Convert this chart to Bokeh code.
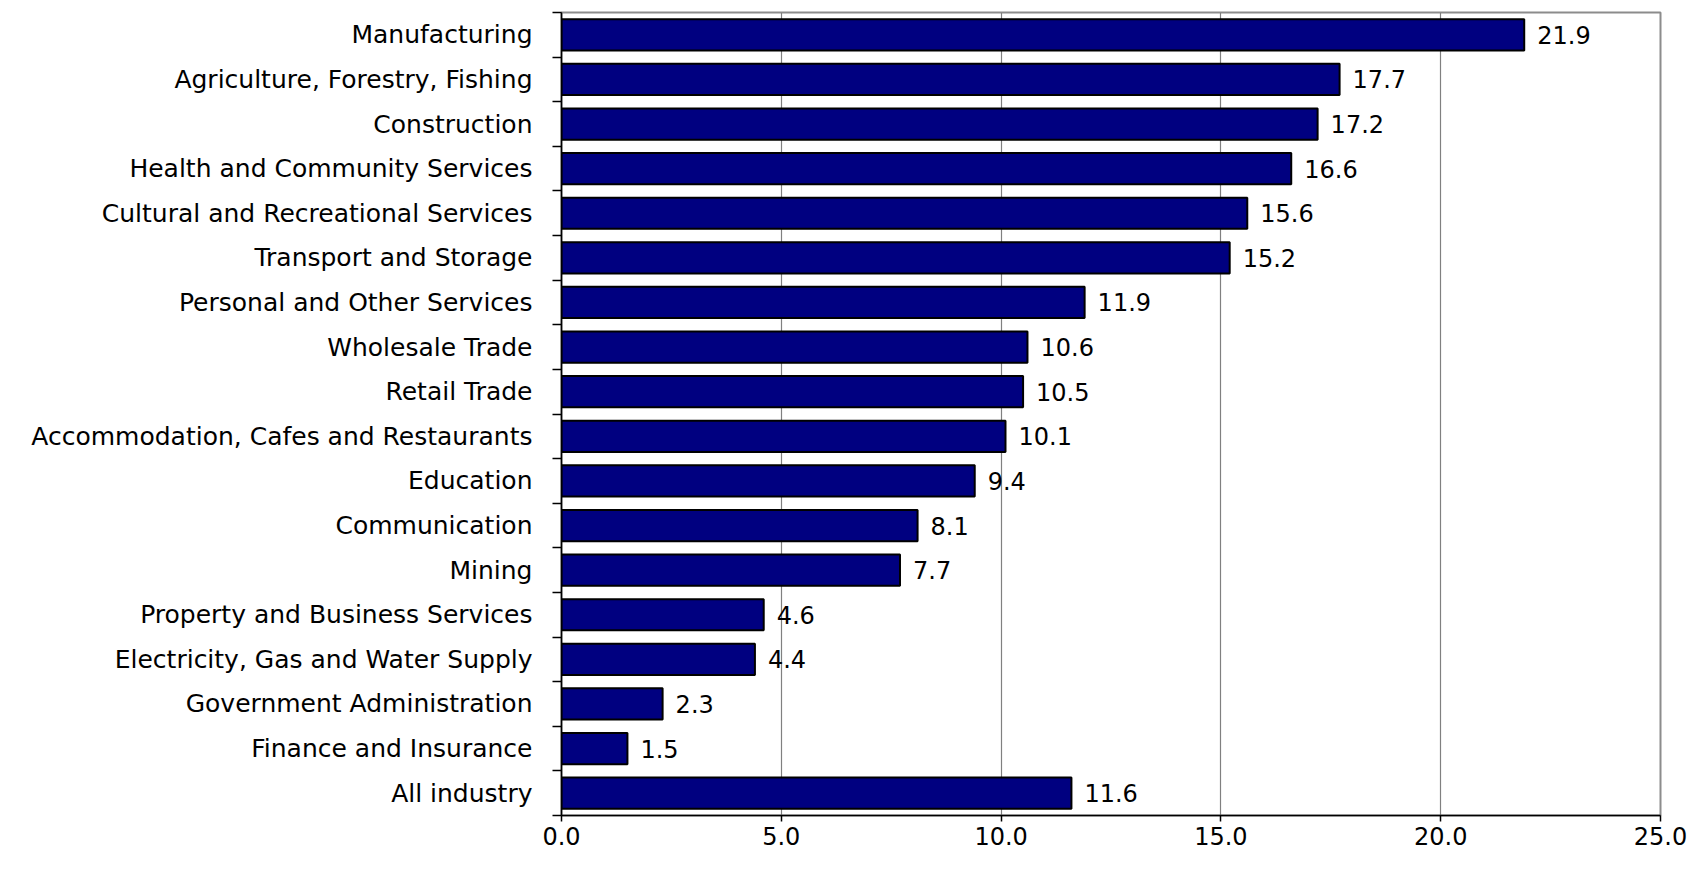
from bokeh.plotting import figure
from bokeh.models import Range1d, FixedTicker, NumeralTickFormatter, ColumnDataSource
from bokeh.embed import file_html
from bokeh.resources import INLINE
from bokeh.core.properties import value
import numpy as np

industries = [
    "Manufacturing",
    "Agriculture, Forestry, Fishing",
    "Construction",
    "Health and Community Services",
    "Cultural and Recreational Services",
    "Transport and Storage",
    "Personal and Other Services",
    "Wholesale Trade",
    "Retail Trade",
    "Accommodation, Cafes and Restaurants",
    "Education",
    "Communication",
    "Mining",
    "Property and Business Services",
    "Electricity, Gas and Water Supply",
    "Government Administration",
    "Finance and Insurance",
    "All industry",
]
values = [21.9, 17.7, 17.2, 16.6, 15.6, 15.2, 11.9, 10.6, 10.5, 10.1,
          9.4, 8.1, 7.7, 4.6, 4.4, 2.3, 1.5, 11.6]
x_ticks = [0, 5, 10, 15, 20, 25]

n = len(industries)
ypos = (np.arange(n)[::-1] + 0.5).tolist()
labels = [f"{v:.1f}" for v in values]

src = ColumnDataSource(dict(y=ypos, v=values, lab=labels, name=industries))

FONT = "DejaVu Sans"

p = figure(
    frame_width=1099, frame_height=803,
    min_border_left=561, min_border_top=12, min_border_right=31, min_border_bottom=42,
    x_range=Range1d(0, 25), y_range=Range1d(0, n),
    output_backend="svg", toolbar_location=None,
)
p.background_fill_color = "white"
p.border_fill_color = "white"
p.outline_line_color = "#8c8c8c"
p.outline_line_width = 2

p.hbar(y="y", left=0, right="v", height=0.70, source=src,
       fill_color="#000080", line_color="black", line_width=2)

p.text(x="v", y="y", text="lab", source=src, x_offset=13,
       text_baseline="middle", text_align="left",
       text_font=value(FONT), text_font_size="24px", text_color="black")

# x axis
p.xaxis.ticker = FixedTicker(ticks=x_ticks)
p.xaxis.formatter = NumeralTickFormatter(format="0.0")
p.xaxis.major_tick_out = 6
p.xaxis.major_tick_in = 0
p.xaxis.minor_tick_out = 0
p.xaxis.minor_tick_in = 0
p.xaxis.axis_line_color = "black"
p.xaxis.axis_line_width = 1.5
p.xaxis.major_tick_line_color = "black"
p.xaxis.major_tick_line_width = 1.5
p.xaxis.major_label_standoff = 5
p.xaxis.major_label_text_font = FONT
p.xaxis.major_label_text_font_size = "24px"
p.xaxis.major_label_text_color = "black"

# y axis: labels at band centres, ticks at band boundaries
p.yaxis.ticker = FixedTicker(ticks=ypos, minor_ticks=list(range(n + 1)))
p.yaxis.major_label_overrides = {y: name for y, name in zip(ypos, industries)}
p.yaxis.major_tick_out = 0
p.yaxis.major_tick_in = 0
p.yaxis.minor_tick_out = 9
p.yaxis.minor_tick_in = 0
p.yaxis.minor_tick_line_color = "black"
p.yaxis.minor_tick_line_width = 1.5
p.yaxis.axis_line_color = "black"
p.yaxis.axis_line_width = 1.5
p.yaxis.major_label_standoff = 20
p.yaxis.major_label_text_font = FONT
p.yaxis.major_label_text_font_size = "25px"
p.yaxis.major_label_text_color = "black"

# grid
p.xgrid.ticker = FixedTicker(ticks=[5, 10, 15, 20])
p.xgrid.grid_line_color = "#808080"
p.xgrid.grid_line_width = 1.2
p.ygrid.grid_line_color = None

open("out.html", "w").write(file_html(p, INLINE))
